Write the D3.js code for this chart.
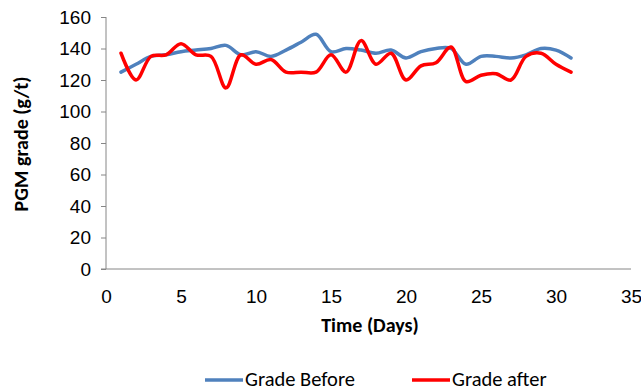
<!DOCTYPE html>
<html>
<head>
<meta charset="utf-8">
<script src="https://cdn.jsdelivr.net/npm/d3@7/dist/d3.min.js"></script>
<style>
  html, body { margin: 0; padding: 0; background: #fff; }
  svg { display: block; font-family: Carlito, Calibri, Lato, "Liberation Sans", Arial, sans-serif; }
</style>
</head>
<body>
<div id="chart"></div>
<script>
// Daily PGM grade, days 1..31
const days = d3.range(1, 32);
const gradeBefore = [125, 130, 135, 136, 138, 139, 140, 142, 136, 138, 135, 139, 144, 149, 138, 140, 139, 137, 139, 134, 138, 140, 140, 130, 135, 135, 134, 136, 140, 139, 134];
const gradeAfter  = [137, 120, 135, 136, 143, 136, 135, 115, 136, 130, 133, 125, 125, 125, 136, 125, 145, 130, 137, 120, 129, 131, 141, 119, 123, 124, 120, 135, 137, 130, 125];
const xTicks = [0, 5, 10, 15, 20, 25, 30, 35];
const yTicks = [0, 20, 40, 60, 80, 100, 120, 140, 160];
const seriesNames = ["Grade Before", "Grade after"];
const seriesColors = ["#4F81BD", "#FF0000"];

const W = 641, H = 392;
const svg = d3.select("#chart").append("svg").attr("width", W).attr("height", H);

const x = d3.scaleLinear().domain([0, 35]).range([106, 631]);
const y = d3.scaleLinear().domain([0, 160]).range([269, 17]);

const axisColor = "#868686";

// Y axis
const yAxis = svg.append("g").attr("transform", `translate(${x(0)},0)`)
  .call(d3.axisLeft(y).tickValues(yTicks).tickSize(5).tickPadding(10).tickFormat(d3.format("d")));
yAxis.select(".domain").attr("stroke", axisColor).attr("d", `M0,${y(160)}V${y(0)}`);
yAxis.selectAll(".tick line").attr("stroke", axisColor);
yAxis.selectAll(".tick text").attr("font-size", 19).attr("fill", "#000").attr("font-family", "inherit");

// X axis
const xAxis = svg.append("g").attr("transform", `translate(0,${y(0)})`)
  .call(d3.axisBottom(x).tickValues(xTicks).tickSize(0).tickPadding(21));
xAxis.select(".domain").attr("stroke", axisColor).attr("d", `M${x(0) - 5},0H${x(35)}`);
xAxis.selectAll(".tick text").attr("font-size", 19).attr("fill", "#000").attr("font-family", "inherit");

// Axis titles
svg.append("text")
  .attr("x", 370).attr("y", 332)
  .attr("text-anchor", "middle").attr("font-size", 20).attr("font-weight", "bold")
  .text("Time (Days)");
svg.append("text")
  .attr("transform", `translate(28,${(y(0) + y(160)) / 2 + 1}) rotate(-90)`)
  .attr("text-anchor", "middle").attr("font-size", 20).attr("font-weight", "bold")
  .text("PGM grade (g/t)");

// Smoothed series lines
const line = d3.line()
  .x((d, i) => x(days[i]))
  .y(d => y(d))
  .curve(d3.curveCatmullRom.alpha(0.5));

[gradeBefore, gradeAfter].forEach((vals, k) => {
  svg.append("path")
    .datum(vals)
    .attr("fill", "none")
    .attr("stroke", seriesColors[k])
    .attr("stroke-width", 3.5)
    .attr("stroke-linejoin", "round")
    .attr("stroke-linecap", "round")
    .attr("d", line);
});

// Legend
const legendX = [205, 412];
seriesNames.forEach((name, k) => {
  const g = svg.append("g").attr("transform", `translate(${legendX[k]},380)`);
  g.append("line").attr("x1", 0).attr("x2", 38).attr("y1", 0).attr("y2", 0)
    .attr("stroke", seriesColors[k]).attr("stroke-width", 3.5);
  g.append("text").attr("x", 40).attr("y", 6).attr("font-size", 20.5).text(name);
});
</script>
</body>
</html>
